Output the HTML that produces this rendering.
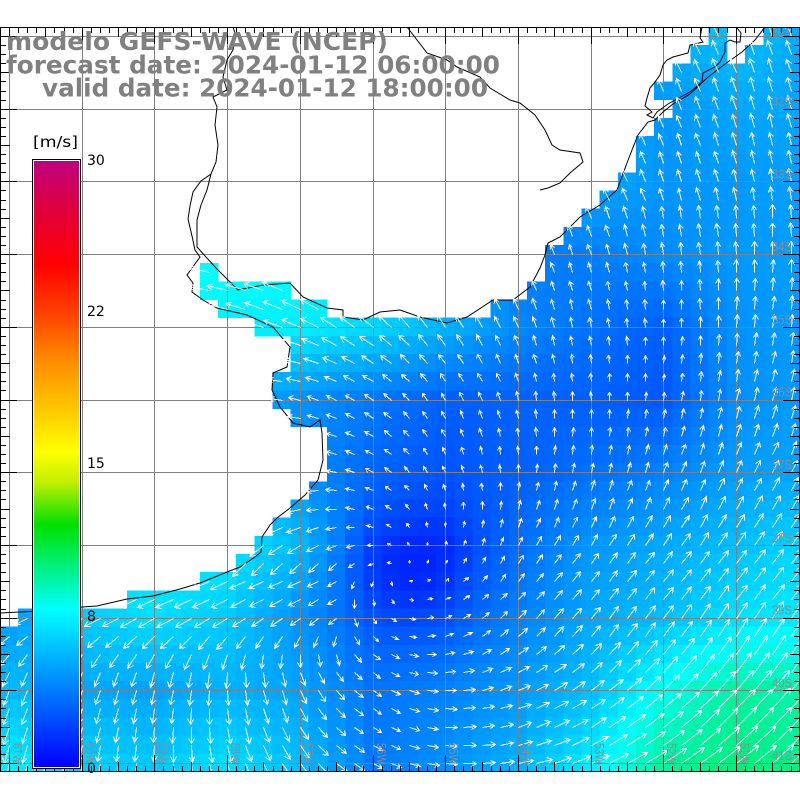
<!DOCTYPE html>
<html>
<head>
<meta charset="utf-8">
<style>
html,body{margin:0;padding:0;background:#fff;width:800px;height:800px;overflow:hidden}
svg{display:block}
</style>
</head>
<body>
<svg id="s" width="800" height="800" viewBox="0 0 800 800" xmlns="http://www.w3.org/2000/svg">
<defs>
  <clipPath id="mapclip"><rect x="0" y="27" width="800" height="745"/></clipPath>
  <linearGradient id="cbar" x1="0" y1="0" x2="0" y2="1">
    <stop offset="0" stop-color="#c0007f"/>
    <stop offset="0.08" stop-color="#e0003c"/>
    <stop offset="0.17" stop-color="#ff0000"/>
    <stop offset="0.25" stop-color="#ff4000"/>
    <stop offset="0.33" stop-color="#ff8c00"/>
    <stop offset="0.41" stop-color="#ffc800"/>
    <stop offset="0.48" stop-color="#ffff00"/>
    <stop offset="0.53" stop-color="#c0f000"/>
    <stop offset="0.60" stop-color="#00e000"/>
    <stop offset="0.67" stop-color="#00f080"/>
    <stop offset="0.74" stop-color="#00ffff"/>
    <stop offset="0.87" stop-color="#0080ff"/>
    <stop offset="1" stop-color="#0000ff"/>
  </linearGradient>
</defs>
<rect x="0" y="0" width="800" height="800" fill="#fff"/>
<g clip-path="url(#mapclip)">
  <g id="cells" shape-rendering="crispEdges"></g>
  <g id="grid" stroke="#808080" stroke-width="1" fill="none" shape-rendering="crispEdges"></g>
  <g id="coast" fill="none" stroke="#000" stroke-width="1">
    <polyline points="233,27 235,33 233,50 227,60 223,77 227,90 213,97 217,107 215,125 218,145 216,162 211,174 201,181 193,192 190,206 188,219 192,236 195,250 200,257 187,275 193,283 192,292 203,300 217,308 247,315 273,327 290,347 287,367 273,373 272,390 280,407 293,423 310,427 320,420 322,433 323,460 318,480 305,495 290,508 277,518 270,525 262,537 261,552 255,557 240,567 227,572 200,583 180,589 153,596 127,599 97,606 82,607 40,611 0,613"/>
    <polyline points="211,174 207,190 201,205 197,220 197,247 216,268 238,290 263,285 290,283 303,297 327,308 343,310 343,317 363,320 380,312 400,310 420,317 447,323 467,317 493,300 513,300 530,287 540,268 545,255 548,243 560,237 580,217 600,205 617,190 627,163 632,150 638,135 648,122 655,120 663,112 673,104 690,94 707,78 725,64 742,52 755,40 765,27"/>
    <polyline points="407,27 427,53 447,60 457,67 480,77 490,88 510,100 520,103 535,115 545,130 552,145 560,150 580,153 583,162 570,173 560,183 548,188 540,190"/>
    <polyline points="657,112 668,104 677,99 690,92 702,82 703,73 715,67 720,62 725,52 725,43 730,40 735,42 740,42 741,33 737,28"/>
    <polyline points="702,27 700,38 703,42 690,45 688,53 673,57 667,60 663,65 660,75 655,82 650,88 647,98 645,106 652,112 647,115 653,118 657,112"/>
  </g>
  <g id="arrows" stroke="#fff" stroke-width="1" fill="none" shape-rendering="crispEdges"></g>
  <g font-family="'Liberation Sans', 'DejaVu Sans', sans-serif" font-size="13" fill="#8c8c8c">
    <text x="792" y="33" text-anchor="end" textLength="20" lengthAdjust="spacingAndGlyphs">31S</text>
    <text x="792" y="105.7" text-anchor="end" textLength="20" lengthAdjust="spacingAndGlyphs">32S</text>
    <text x="792" y="178.4" text-anchor="end" textLength="20" lengthAdjust="spacingAndGlyphs">33S</text>
    <text x="792" y="251.1" text-anchor="end" textLength="20" lengthAdjust="spacingAndGlyphs">34S</text>
    <text x="792" y="323.8" text-anchor="end" textLength="20" lengthAdjust="spacingAndGlyphs">35S</text>
    <text x="792" y="396.5" text-anchor="end" textLength="20" lengthAdjust="spacingAndGlyphs">36S</text>
    <text x="792" y="469.2" text-anchor="end" textLength="20" lengthAdjust="spacingAndGlyphs">37S</text>
    <text x="792" y="541.9" text-anchor="end" textLength="20" lengthAdjust="spacingAndGlyphs">38S</text>
    <text x="792" y="614.6" text-anchor="end" textLength="20" lengthAdjust="spacingAndGlyphs">39S</text>
    <text x="792" y="687.3" text-anchor="end" textLength="20" lengthAdjust="spacingAndGlyphs">40S</text>
    <text x="792" y="760" text-anchor="end" textLength="20" lengthAdjust="spacingAndGlyphs">41S</text>
    <text transform="translate(13,743) rotate(90)" textLength="21" lengthAdjust="spacingAndGlyphs">61W</text>
    <text transform="translate(86,743) rotate(90)" textLength="21" lengthAdjust="spacingAndGlyphs">60W</text>
    <text transform="translate(158,743) rotate(90)" textLength="21" lengthAdjust="spacingAndGlyphs">59W</text>
    <text transform="translate(231,743) rotate(90)" textLength="21" lengthAdjust="spacingAndGlyphs">58W</text>
    <text transform="translate(304,743) rotate(90)" textLength="21" lengthAdjust="spacingAndGlyphs">57W</text>
    <text transform="translate(377,743) rotate(90)" textLength="21" lengthAdjust="spacingAndGlyphs">56W</text>
    <text transform="translate(449,743) rotate(90)" textLength="21" lengthAdjust="spacingAndGlyphs">55W</text>
    <text transform="translate(522,743) rotate(90)" textLength="21" lengthAdjust="spacingAndGlyphs">54W</text>
    <text transform="translate(595,743) rotate(90)" textLength="21" lengthAdjust="spacingAndGlyphs">53W</text>
    <text transform="translate(667,743) rotate(90)" textLength="21" lengthAdjust="spacingAndGlyphs">52W</text>
    <text transform="translate(740,743) rotate(90)" textLength="21" lengthAdjust="spacingAndGlyphs">51W</text>
  </g>
  <g id="ticks" stroke="#000" stroke-width="1" fill="none" shape-rendering="crispEdges"></g>
</g>
<!-- colorbar -->
<g shape-rendering="crispEdges">
  <rect x="32.5" y="159.5" width="48" height="609" fill="#fff" stroke="#000" stroke-width="1"/>
  <rect x="34" y="161" width="45" height="606" fill="url(#cbar)"/>
</g>
<g font-family="'DejaVu Sans', 'Liberation Sans', sans-serif" font-size="14" fill="#000">
  <text x="33" y="147" font-size="15" textLength="45" lengthAdjust="spacingAndGlyphs">[m/s]</text>
  <text x="87" y="165">30</text>
  <text x="87" y="316">22</text>
  <text x="87" y="468">15</text>
  <text x="87" y="621">8</text>
  <text x="87" y="773">0</text>
</g>
<!-- title -->
<g font-family="'DejaVu Sans', 'Liberation Sans', sans-serif" font-weight="bold" font-size="24.5" fill="#808080">
  <text x="6" y="50" textLength="382" lengthAdjust="spacingAndGlyphs">modelo GEFS-WAVE (NCEP)</text>
  <text x="6" y="73.5" textLength="494" lengthAdjust="spacingAndGlyphs">forecast date: 2024-01-12 06:00:00</text>
  <text x="42" y="96.5" textLength="446" lengthAdjust="spacingAndGlyphs">valid date: 2024-01-12 18:00:00</text>
</g>
</svg>
<script>
(function(){
  var S = 72.7/4;
  function clamp(v,a,b){return v<a?a:(v>b?b:v);}
  var NX=[9,82,154,227,300,373,445,518,591,663,736,809];
  var NY=[36,109,181,254,327,400,472,545,618,690,763];
  var V=[
  [7,7,7,7,7,7,6,5.5,5.2,5.0,5.8,4.8],
  [7,7,7,7,7,6.5,6,5.5,5.2,4.4,4.9,4.9],
  [7,7,7,7,7,6.5,6,5.5,5.0,4.4,4.5,4.7],
  [7.5,7.5,7.5,7.8,7.6,7.3,6,3.6,3.7,4.1,4.5,4.7],
  [7,7,7,7.0,7.0,6.3,5.2,4.0,3.3,2.8,4.3,4.6],
  [5.5,5.5,5.5,5.0,4.3,3.5,2.8,2.9,2.8,2.6,4.2,4.6],
  [5.5,5.5,5.5,5.0,4.3,3.0,2.5,2.8,3.3,3.8,4.6,4.9],
  [6.5,7.2,7.2,7.0,5.4,2.6,1.9,3.2,4.4,4.9,5.6,6.3],
  [4.5,6.0,6.6,6.0,4.3,3.0,2.8,3.8,4.9,5.6,6.6,7.0],
  [5.5,4.9,4.8,5.2,4.8,3.4,3.8,4.5,5.65,7.8,9.2,8.9],
  [7.0,6.1,5.9,6.5,5.6,3.6,4.2,5.2,7.0,9.2,9.8,9.5]];
  function speed(x,y){
    var k=0; while(k<NX.length-2 && x>NX[k+1]) k++;
    var m=0; while(m<NY.length-2 && y>NY[m+1]) m++;
    var tx=clamp((x-NX[k])/(NX[k+1]-NX[k]),0,1);
    var ty=clamp((y-NY[m])/(NY[m+1]-NY[m]),0,1);
    var v=(1-tx)*(1-ty)*V[m][k]+tx*(1-ty)*V[m][k+1]+(1-tx)*ty*V[m+1][k]+tx*ty*V[m+1][k+1];
    var d2=(x-405)*(x-405)+(y-575)*(y-575);
    v-=1.4*Math.exp(-d2/3200);
    return Math.max(0.3,v);
  }
  function color(v){
    var r,g,b,t;
    if(v<=7.5){r=0;g=34*v;b=255;}
    else if(v<=12){t=(v-7.5)/4.5;r=0;g=255-31*t;b=255*(1-t);}
    else if(v<=15){t=(v-12)/3;r=255*t;g=224+31*t;b=0;}
    else if(v<=22.5){t=(v-15)/7.5;r=255;g=255*(1-t);b=0;}
    else {t=Math.min(1,(v-22.5)/7.5);r=255-63*t;g=0;b=128*t;}
    return 'rgb('+Math.round(r)+','+Math.round(g)+','+Math.round(b)+')';
  }
  function dir(x,y){
    var cx=395,cy=575;
    var dx=x-cx,dy=y-cy,r=Math.sqrt(dx*dx+dy*dy)||1;
    var tx=dy/r,ty=-dx/r,ox=dx/r,oy=dy/r;
    var a=0.85;
    if(y<340 && x<450) a=1.0;
    if(y<200 && x>550) a=0.7;
    if(y>560){
      var w=Math.min(1,(y-560)/80);
      var as=0.4+0.45*clamp((330-x)/200,0,1);
      a=a*(1-w)+as*w;
    }
    var ux=tx+a*ox,uy=ty+a*oy,n=Math.sqrt(ux*ux+uy*uy)||1;
    ux/=n;uy/=n;
    if(x<340 && y>580){
      var w2=clamp((670-y)/60,0,1)*0.75;
      ux=ux*(1-w2)-0.97*w2; uy=uy*(1-w2)+0.24*w2;
      n=Math.sqrt(ux*ux+uy*uy)||1; ux/=n; uy/=n;
    }
    return [ux,uy];
  }
  var M={0:[[39,39],[42,43]],1:[[38,39],[41,43]],2:[[37,43]],3:[[36,43]],4:[[37,43]],5:[[36,43]],
    6:[[35,43]],7:[[35,43]],8:[[34,43]],9:[[33,43]],10:[[32,43]],11:[[31,43]],12:[[30,43]],
    13:[[11,11],[30,43]],14:[[11,15],[29,43]],15:[[12,17],[27,43]],16:[[14,43]],17:[[16,43]],
    18:[[16,43]],19:[[15,43]],20:[[15,43]],21:[[16,43]],22:[[18,43]],23:[[18,43]],24:[[18,43]],
    25:[[17,43]],26:[[16,43]],27:[[15,43]],28:[[14,43]],29:[[13,43]],30:[[11,43]],31:[[7,43]],32:[[1,43]]};
  var cells='',arr='';
  function p(v){return (Math.round(v)+0.5).toFixed(1);}
  for(var j=0;j<=40;j++){
    var rg=M[j]||[[0,43]];
    for(var q=0;q<rg.length;q++){
      for(var i=rg[q][0];i<=rg[q][1];i++){
        var cx=9+S*i, cy=36+S*j;
        var v=speed(cx,cy);
        cells+='<rect x="'+(cx-S/2).toFixed(2)+'" y="'+(cy-S/2).toFixed(2)+'" width="'+(S+0.4).toFixed(2)+'" height="'+(S+0.4).toFixed(2)+'" fill="'+color(v)+'"/>';
        var d=dir(cx,cy), L=2.9*v;
        var tx=cx+d[0]*L, ty=cy+d[1]*L;
        var h=Math.min(6,1.5+0.3*L), ang=0.5;
        var bx=-d[0], by=-d[1];
        var c=Math.cos(ang), s=Math.sin(ang);
        var h1x=tx+h*(bx*c-by*s), h1y=ty+h*(bx*s+by*c);
        var h2x=tx+h*(bx*c+by*s), h2y=ty+h*(-bx*s+by*c);
        arr+='M'+p(cx)+' '+p(cy)+'L'+p(tx)+' '+p(ty)+'M'+p(h1x)+' '+p(h1y)+'L'+p(tx)+' '+p(ty)+'L'+p(h2x)+' '+p(h2y);
      }
    }
  }
  document.getElementById('cells').innerHTML=cells;
  var ap=document.createElementNS('http://www.w3.org/2000/svg','path');
  ap.setAttribute('d',arr);
  document.getElementById('arrows').appendChild(ap);
  var g='';
  for(var k=0;k<=10;k++){var x=p(9+72.7*k); g+='M'+x+' 27V772';}
  for(var m=0;m<=10;m++){var y=p(36+72.7*m); g+='M0 '+y+'H800';}
  var gp=document.createElementNS('http://www.w3.org/2000/svg','path');
  gp.setAttribute('d',g);
  document.getElementById('grid').appendChild(gp);
  var t='', st=72.7/8;
  for(var n=-1;n<=88;n++){
    var xx=9+st*n; if(xx<0||xx>800) continue;
    var len=(n%8===0)?17:((n%4===0)?10:6);
    var xr=p(xx);
    t+='M'+xr+' 27V'+(27+len)+'M'+xr+' 772V'+(772-len);
  }
  for(var n2=-1;n2<=82;n2++){
    var yy=36+st*n2; if(yy<27||yy>772) continue;
    var len2=(n2%8===0)?17:((n2%4===0)?10:6);
    var yr=p(yy);
    t+='M0 '+yr+'H'+len2+'M800 '+yr+'H'+(800-len2);
  }
  t+='M0 27.5H800M0 771.5H800M0.5 27V772M799.5 27V772';
  var tp=document.createElementNS('http://www.w3.org/2000/svg','path');
  tp.setAttribute('d',t);
  document.getElementById('ticks').appendChild(tp);
})();
</script>
</body>
</html>
